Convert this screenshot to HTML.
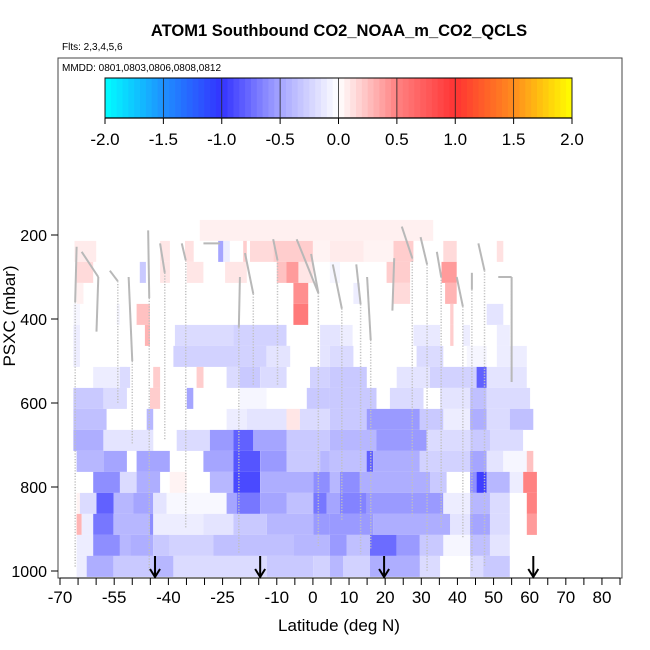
<!DOCTYPE html>
<html><head><meta charset="utf-8"><style>
html,body{margin:0;padding:0;background:#fff;}
svg{display:block;font-family:"Liberation Sans",Arial,sans-serif;}
</style></head><body>
<svg id="c" width="650" height="650" viewBox="0 0 650 650" xmlns="http://www.w3.org/2000/svg">
<text x="339" y="36" text-anchor="middle" font-size="16.5" font-weight="bold">ATOM1 Southbound CO2_NOAA_m_CO2_QCLS</text>
<text x="62" y="50" font-size="10">Flts: 2,3,4,5,6</text>
<rect x="58" y="58" width="564" height="520" fill="none" stroke="#444" stroke-width="1"/>
<text x="62" y="71" font-size="10">MMDD: 0801,0803,0806,0808,0812</text>
<g id="heat"></g>
<g id="tracks"></g>
<g id="cbar"></g>
<g id="axes"></g>
<text x="339" y="631" text-anchor="middle" font-size="17">Latitude (deg N)</text>
<text transform="translate(15,316) rotate(-90)" text-anchor="middle" font-size="17">PSXC (mbar)</text>
</svg>
<script>
const xTicks = [-70,-65,-60,-55,-50,-45,-40,-35,-30,-25,-20,-15,-10,-5,0,5,10,15,20,25,30,35,40,45,50,55,60,65,70,75,80,85];
const xLabels = [-70,-55,-40,-25,-10,0,10,20,30,40,50,60,70,80];
const yTicks = [200,400,600,800,1000];
const cbarTicks = [-2.0,-1.5,-1.0,-0.5,0.0,0.5,1.0,1.5,2.0];
const arrowLats = [-43.7,-14.6,19.7,61];
const rowP = [189,239,289,339,389,439,489,539,589,639,689,739,789,839,889,939,989];
// segments per pressure row: [latStart, latEnd, value]
const row0 = [[-31.3,33.3,0.06]];
const row1 = [[-66,-60,0.08],[-42.3,-39.6,0.1],[-35.4,-33,0.12],[-26.2,-24.8,-0.5],[-24.8,-23,-0.1],[-19.3,-18.3,0.2],[-17.4,-11,0.15],[-11,0,0.2],[0,4.7,0.05],[4.7,14,0.08],[14,22.3,0.05],[22.3,27.8,0.2],[36.1,39.8,0.15],[50.9,52.7,0.12]];
const row2 = [[-65.4,-60.8,0.15],[-47.9,-46.2,-0.3],[-42.3,-39.6,0.1],[-34.9,-30.3,0.1],[-24.3,-18.3,0.1],[-10,-7.3,0.25],[-7.3,-4,0.4],[-4,0.1,0.1],[4.7,7.5,-0.05],[20.4,26.9,0.2],[35.6,39.8,0.4]];
const row3 = [[-65.4,-63.5,0.06],[-5.4,-1.3,0.45],[11.2,13,-0.1],[22.3,26.9,0.15],[36.6,39.8,0.3]];
const row4 = [[-66.3,-64.5,-0.05],[-54.3,-53.4,-0.05],[-48.8,-45.1,0.25],[-5.4,-1.3,0.55],[38,38.9,0.2],[48.1,52.7,-0.15]];
const row5 = [[-66.3,-64.5,-0.1],[-46.5,-45.1,0.3],[-38.2,-22,-0.2],[-22,-7.3,-0.25],[2,7.5,-0.15],[7.5,11,-0.1],[27.8,35.2,-0.12],[38,38.9,0.2],[41.6,43.5,-0.1],[50.9,54.5,-0.1]];
const row6 = [[-66.3,-64.5,-0.1],[-38.6,-12.8,-0.25],[-12.8,-6.3,-0.15],[2,4.7,-0.15],[4.7,11.2,-0.2],[28.7,36.1,-0.2],[42.6,48.1,-0.05],[50.9,59.2,-0.1]];
const row7 = [[-60.8,-51.5,-0.1],[-53.4,-50.6,-0.2],[-44.2,-42.3,0.2],[-32.2,-30.3,0.2],[-23.9,-20.2,-0.2],[-20.2,-14.6,-0.3],[-14.6,-7.3,-0.2],[-0.8,4.7,-0.25],[4.7,14.9,-0.3],[23.2,32.4,-0.15],[32.4,45.3,-0.25],[45.3,48.1,-0.8],[48.1,59.2,-0.15]];
const row8 = [[-66.3,-58,-0.3],[-58,-51.5,-0.2],[-45.1,-42.3,0.2],[-34.9,-33.1,-0.5],[-20.2,-12.8,-0.05],[-1.7,4.7,-0.3],[4.7,17.6,-0.3],[21.3,30.6,-0.2],[35.2,43.5,-0.15],[43.5,48.1,-0.35],[48.1,60.1,-0.2]];
const row9 = [[-66.3,-57.1,-0.35],[-46,-44.2,-0.4],[-23.9,-18.3,-0.1],[-18.3,-7.3,-0.15],[-7.3,-3.6,0.1],[-3.6,4.7,-0.2],[4.7,14.9,-0.3],[14.9,29.6,-0.55],[29.6,36.1,-0.3],[36.1,43.5,-0.1],[43.5,48.1,-0.45],[48.1,54.5,-0.2],[54.5,61,-0.35]];
const row10 = [[-66.3,-58,-0.45],[-58,-44.2,-0.15],[-37.7,-28.5,-0.2],[-28.5,-22,-0.55],[-22,-16.5,-0.8],[-16.5,-7.3,-0.5],[-7.3,4.7,-0.3],[4.7,17.6,-0.4],[17.6,31.5,-0.55],[31.5,43.5,-0.2],[43.5,49,-0.3],[49,58.2,-0.2]];
const row11 = [[-65.4,-58,-0.4],[-58,-51.5,-0.5],[-48.8,-39.6,-0.5],[-30.3,-22,-0.5],[-22,-14.6,-0.85],[-14.6,-7.3,-0.55],[-7.3,2,-0.3],[2,4.7,-0.4],[4.7,14.9,-0.35],[14.9,16.7,-0.8],[16.7,29.6,-0.45],[29.6,43.5,-0.25],[43.5,48.1,-0.5],[48.1,52.7,-0.15],[52.7,59.2,-0.05],[59.2,61,0.25]];
const row12 = [[-60.8,-53.4,-0.6],[-53.4,-48.8,-0.2],[-48.8,-42.3,-0.45],[-39.6,-34.9,0.05],[-28.5,-22,-0.4],[-22,-14.6,-0.9],[-14.6,0.1,-0.45],[0.1,4.7,-0.6],[4.7,7.5,-0.4],[7.5,13,-0.6],[13,32.4,-0.45],[32.4,37,-0.3],[43.5,45.3,-0.6],[45.3,48.1,-0.95],[48.1,54.5,-0.4],[54.5,58.2,-0.1],[58.2,62,0.5]];
const row13 = [[-65.4,-64.5,0.05],[-64.5,-59.9,-0.2],[-59.9,-55.2,-0.8],[-55.2,-49.7,-0.4],[-49.7,-44.2,-0.5],[-44.2,-40.5,-0.15],[-40.5,-23.9,-0.04],[-23.9,-21.1,-0.5],[-21.1,-14.6,-0.7],[-14.6,-7.3,-0.5],[-7.3,0.1,-0.35],[0.1,3.8,-0.7],[3.8,7.5,-0.5],[7.5,14.9,-0.65],[14.9,36.1,-0.55],[36.1,43.5,-0.1],[43.5,49,-0.4],[49,54.5,-0.2],[59.2,62,0.5]];
const row14 = [[-65.4,-64,0.3],[-64,-60.8,-0.1],[-60.8,-55.2,-0.7],[-55.2,-45.1,-0.4],[-45.1,-44.2,-0.6],[-44.2,-30.3,-0.1],[-30.3,-22,-0.15],[-22,-12.8,-0.3],[-12.8,0.1,-0.4],[0.1,4.7,-0.55],[4.7,16.7,-0.55],[16.7,38,-0.45],[38,43.5,-0.15],[43.5,49,-0.5],[49,54.5,-0.2],[59.2,62,0.4]];
const row15 = [[-65.4,-60.8,-0.1],[-60.8,-53.4,-0.6],[-53.4,-50.6,-0.4],[-50.6,-44.2,-0.45],[-44.2,-39.6,-0.3],[-39.6,-27.6,-0.25],[-27.6,-5.4,-0.35],[-5.4,4.7,-0.4],[4.7,9.3,-0.55],[9.3,15.8,-0.35],[15.8,23.2,-0.75],[23.2,29.6,-0.55],[29.6,36.1,-0.3],[36.1,43.5,-0.05],[43.5,49,-0.35],[49,54.5,-0.15]];
const row16 = [[-65.4,-62.6,-0.1],[-62.6,-55.2,-0.45],[-55.2,-44.2,-0.3],[-44.2,-38.6,-0.4],[-38.6,-12.8,-0.2],[-12.8,0.1,-0.3],[0.1,4.7,-0.25],[4.7,8.4,-0.4],[8.4,15.8,-0.25],[15.8,29.6,-0.45],[29.6,35.2,-0.2],[43.5,47.2,-0.2],[47.2,54.5,-0.3]];
const rows = [row0,row1,row2,row3,row4,row5,row6,row7,row8,row9,row10,row11,row12,row13,row14,row15,row16];
// profiles: [latTop, pTop, latMid, pMid, pBottom]
const tracks = [[-65.4,228,-65.8,360,990],[-64,240,-59.4,300,300],[-59.4,300,-59.9,430,430],[-56.2,285,-54,310,600],[-51,300,-50,500,700],[-45.6,189,-45.3,350,1000],[-42.3,220,-41,290,690],[-36.3,220,-35.2,260,900],[-30.3,220,-25.7,220,220],[-18.8,243,-16.5,340,560],[-11,210,-9.8,260,560],[-4.5,210,1.5,338,360],[-0.5,245,1.5,338,940],[5.5,270,8,375,880],[12,270,13.2,365,960],[15,300,16,450,950],[24.6,180,27.5,255,870],[22.5,255,22,380,380],[29.8,205,31.6,270,1000],[34.3,240,35.5,300,900],[39.8,300,41.5,370,920],[45.8,220,47.5,285,990],[51.3,300,55,300,550],[55,300,55,550,550],[44,290,44,330,1000],[-20.2,300,-20.5,420,960]];

const NS = 'http://www.w3.org/2000/svg';
const xs = lat => 60 + (lat + 70) * 3.613;
const ys = p => 235 + (p - 200) * 0.42;
const stops = [[-2,[0,255,255]],[-1.5,[30,144,255]],[-1,[51,51,255]],[-0.5,[165,165,255]],[0,[255,255,255]],[0.5,[255,130,130]],[1,[255,51,51]],[1.5,[255,140,30]],[2,[255,255,0]]];
function col(v){
  v = Math.max(-2, Math.min(2, v));
  for (let i = 0; i < stops.length - 1; i++) {
    const a = stops[i], b = stops[i+1];
    if (v <= b[0]) {
      const t = (v - a[0]) / (b[0] - a[0]);
      const c = a[1].map((q, k) => Math.round(q + (b[1][k] - q) * t));
      return 'rgb(' + c.join(',') + ')';
    }
  }
  return 'rgb(255,255,0)';
}
function mk(tag, attrs, parent){
  const e = document.createElementNS(NS, tag);
  for (const k in attrs) e.setAttribute(k, attrs[k]);
  parent.appendChild(e);
  return e;
}
const heat = document.getElementById('heat');
rows.forEach((segs, r) => {
  const y0 = ys(rowP[r] - 25), y1 = ys(rowP[r] + 25);
  segs.forEach(s => {
    const e = mk('rect', {x: xs(s[0]).toFixed(1), y: y0.toFixed(1), width: (xs(s[1]) - xs(s[0])).toFixed(1), height: (y1 - y0).toFixed(1), fill: col(s[2])}, heat);
    
    
  });
});
const tg = document.getElementById('tracks');
tracks.forEach(t => {
  const a = mk('line', {x1: xs(t[0]), y1: ys(t[1]), x2: xs(t[2]), y2: ys(t[3]), stroke: '#b8b8b8', 'stroke-width': 2}, tg);
  
  
  if (t[4] > t[3]) {
    const d = mk('line', {x1: xs(t[2]), y1: ys(t[3]), x2: xs(t[2]), y2: ys(t[4]), stroke: '#c0c0c0', 'stroke-width': 1.5, 'stroke-dasharray': '1.2 1.6'}, tg);
    
    
  }
});
// colorbar
const cb = document.getElementById('cbar');
const cx0 = 105, cx1 = 572, cy0 = 78, cy1 = 118;
const cxs = v => cx0 + (v + 2) / 4 * (cx1 - cx0);
for (let i = 0; i < 80; i++) {
  const v = -2 + i * 0.05;
  const e = mk('rect', {x: cxs(v).toFixed(2), y: cy0, width: ((cx1 - cx0) / 80 + 0.4).toFixed(2), height: cy1 - cy0, fill: col(v + 0.025)}, cb);
  
  
}
mk('rect', {x: cx0, y: cy0, width: cx1 - cx0, height: cy1 - cy0, fill: 'none', stroke: '#000', 'stroke-width': 1}, cb);
mk('line', {x1: cx0, y1: cy1, x2: cx1, y2: cy1, stroke: '#000', 'stroke-width': 1.2}, cb);
cbarTicks.forEach(v => {
  mk('line', {x1: cxs(v), y1: cy0, x2: cxs(v), y2: cy1, stroke: '#222', 'stroke-width': 0.8}, cb);
  mk('line', {x1: cxs(v), y1: cy1, x2: cxs(v), y2: cy1 + 6, stroke: '#000'}, cb);
  const t = mk('text', {x: cxs(v), y: 145, 'text-anchor': 'middle', 'font-size': 17}, cb);
  t.textContent = v.toFixed(1);
  
  
});
// axes
const ax = document.getElementById('axes');
mk('line', {x1: xs(-70), y1: 578, x2: xs(85), y2: 578, stroke: '#000'}, ax);
xTicks.forEach(v => mk('line', {x1: xs(v), y1: 578, x2: xs(v), y2: 585, stroke: '#000'}, ax));
xLabels.forEach(v => {
  const t = mk('text', {x: xs(v), y: 603, 'text-anchor': 'middle', 'font-size': 17}, ax);
  t.textContent = v;
  
  
});
yTicks.forEach(v => {
  mk('line', {x1: 51, y1: ys(v), x2: 58, y2: ys(v), stroke: '#000'}, ax);
  const t = mk('text', {x: 47, y: ys(v) + 6, 'text-anchor': 'end', 'font-size': 16}, ax);
  t.textContent = v;
  
  
});
arrowLats.forEach(v => {
  const g = mk('g', {}, ax);
  
  
  mk('line', {x1: xs(v), y1: 556, x2: xs(v), y2: 576, stroke: '#000', 'stroke-width': 2}, g);
  mk('polyline', {points: (xs(v)-5)+',569 '+xs(v)+',577 '+(xs(v)+5)+',569', fill: 'none', stroke: '#000', 'stroke-width': 2}, g);
});
</script>
</body></html>
